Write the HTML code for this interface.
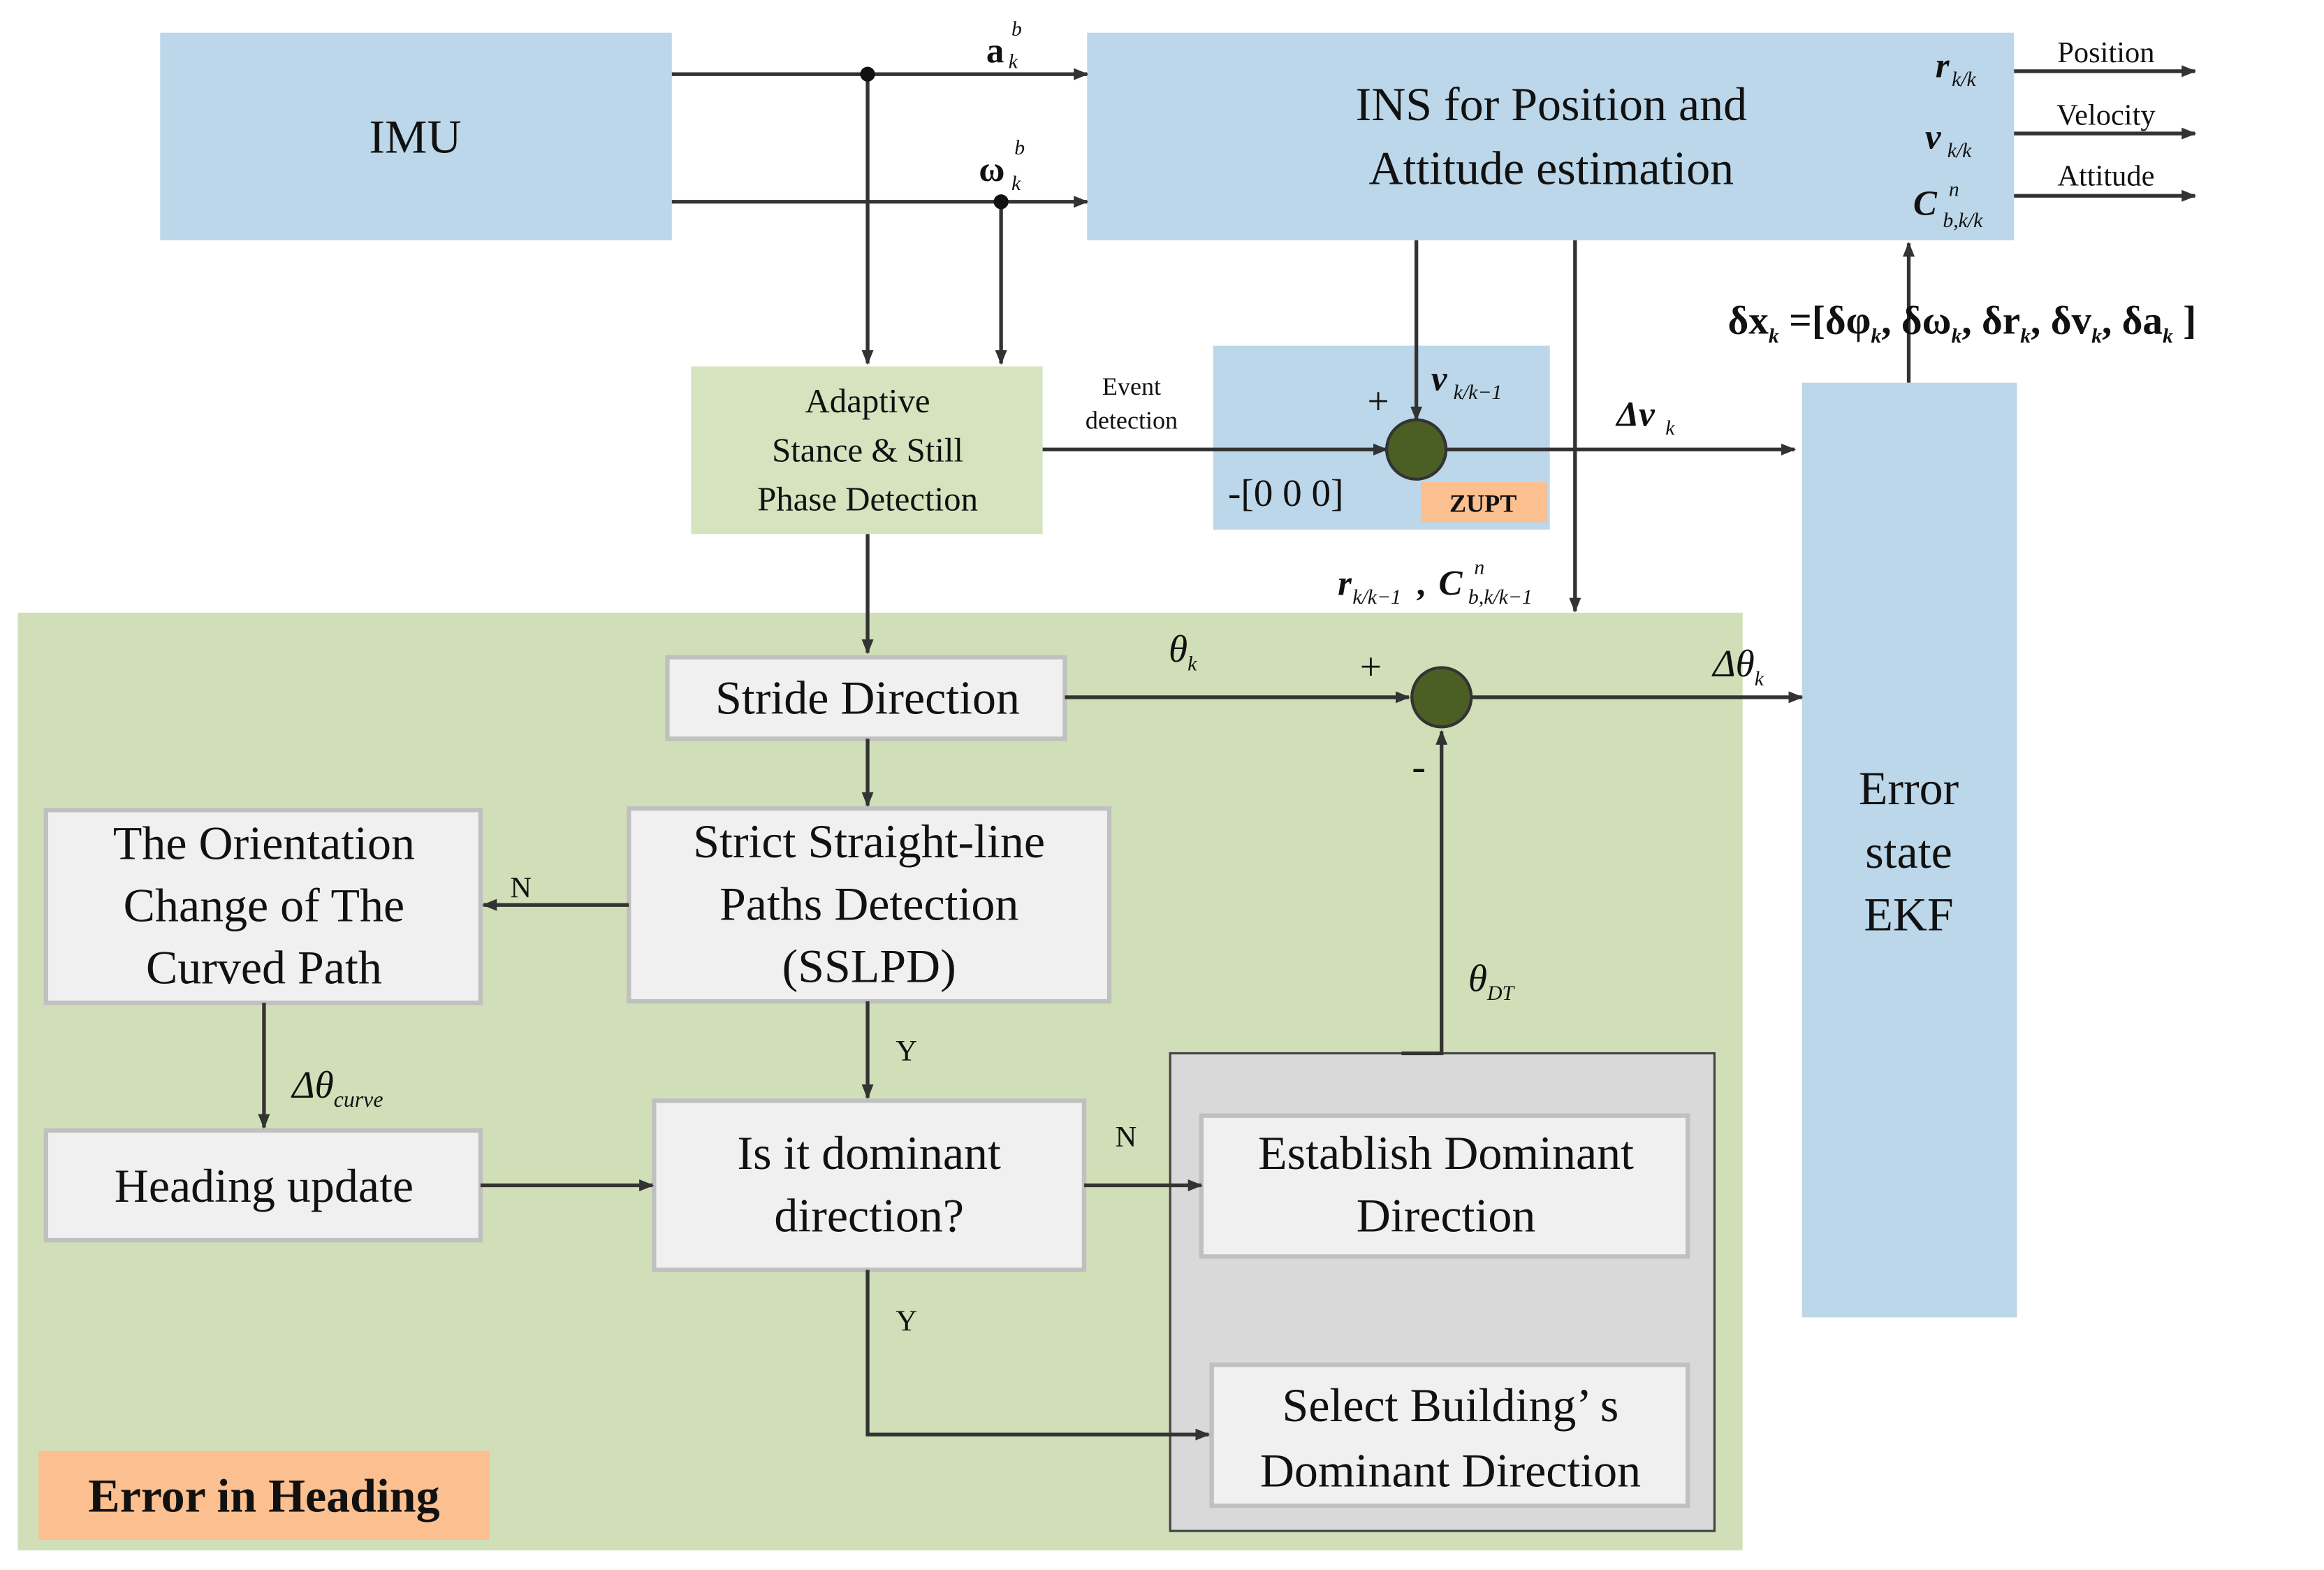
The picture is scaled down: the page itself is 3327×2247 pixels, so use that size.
<!DOCTYPE html>
<html><head><meta charset="utf-8"><style>html,body{margin:0;padding:0;background:#fff}svg{display:block}text{font-family:"Liberation Serif",serif;fill:#111}</style></head>
<body>
<svg width="3327" height="2247" viewBox="0 0 1567 1058.3" preserveAspectRatio="none" xmlns="http://www.w3.org/2000/svg">
<defs><marker id="a" markerWidth="10" markerHeight="8" refX="9" refY="4" orient="auto" markerUnits="userSpaceOnUse"><path d="M0,0 L10,4 L0,8 z" fill="#333"/></marker></defs>
<rect width="1567" height="1058.3" fill="#fff"/>
<rect x="12" y="413" width="1163" height="632" fill="#d1dfb8"/>
<rect x="108" y="22" width="345" height="140" fill="#bcd7e9"/>
<text x="280" y="103" font-size="32" text-anchor="middle">IMU</text>
<rect x="733" y="22" width="625" height="140" fill="#bcd7e9"/>
<text x="1046" y="81" font-size="32" text-anchor="middle">INS for Position and</text>
<text x="1046" y="124" font-size="32" text-anchor="middle">Attitude estimation</text>
<g stroke="#333" stroke-width="2.5" fill="none">
<line x1="453" y1="50" x2="733" y2="50" marker-end="url(#a)"/>
<line x1="453" y1="136" x2="733" y2="136" marker-end="url(#a)"/>
<line x1="585" y1="50" x2="585" y2="245" marker-end="url(#a)"/>
<line x1="675" y1="136" x2="675" y2="245" marker-end="url(#a)"/>
<line x1="1358" y1="48" x2="1480" y2="48" marker-end="url(#a)"/>
<line x1="1358" y1="90" x2="1480" y2="90" marker-end="url(#a)"/>
<line x1="1358" y1="132" x2="1480" y2="132" marker-end="url(#a)"/>
</g>
<circle cx="585" cy="50" r="5" fill="#111"/><circle cx="675" cy="136" r="5" fill="#111"/>
<text x="665" y="42" font-size="24" font-weight="bold">a</text><text x="682" y="24" font-size="14" font-style="italic">b</text><text x="680" y="46" font-size="14" font-style="italic">k</text>
<text x="660" y="122" font-size="24" font-weight="bold">ω</text><text x="684" y="104" font-size="14" font-style="italic">b</text><text x="682" y="128" font-size="14" font-style="italic">k</text>
<text x="1305" y="52" font-size="24" font-weight="bold" font-style="italic">r</text><text x="1316" y="58" font-size="14" font-style="italic">k/k</text>
<text x="1298" y="100" font-size="24" font-weight="bold" font-style="italic">v</text><text x="1313" y="106" font-size="14" font-style="italic">k/k</text>
<text x="1290" y="145" font-size="24" font-weight="bold" font-style="italic">C</text><text x="1314" y="132" font-size="14" font-style="italic">n</text><text x="1310" y="153" font-size="14" font-style="italic">b,k/k</text>
<text x="1420" y="42" font-size="20" text-anchor="middle">Position</text>
<text x="1420" y="84" font-size="20" text-anchor="middle">Velocity</text>
<text x="1420" y="125" font-size="20" text-anchor="middle">Attitude</text>
<rect x="466" y="247" width="237" height="113" fill="#d5e3bf"/>
<text x="585" y="278" font-size="23" text-anchor="middle">Adaptive</text>
<text x="585" y="311" font-size="23" text-anchor="middle">Stance &amp; Still</text>
<text x="585" y="344" font-size="23" text-anchor="middle">Phase Detection</text>
<rect x="818" y="233" width="227" height="124" fill="#bcd7e9"/>
<rect x="958" y="325" width="85" height="27" fill="#fbbf90"/>
<text x="1000" y="345" font-size="17" font-weight="bold" text-anchor="middle">ZUPT</text>
<text x="763" y="266" font-size="17" text-anchor="middle">Event</text>
<text x="763" y="289" font-size="17" text-anchor="middle">detection</text>
<text x="828" y="341" font-size="26">-[0 0 0]</text>
<text x="922" y="279" font-size="26">+</text>
<text x="965" y="263" font-size="24" font-weight="bold" font-style="italic">v</text><text x="980" y="269" font-size="14" font-style="italic">k/k−1</text>
<g stroke="#333" stroke-width="2.5" fill="none">
<line x1="703" y1="303" x2="935" y2="303" marker-end="url(#a)"/>
<line x1="955" y1="162" x2="955" y2="283" marker-end="url(#a)"/>
<line x1="975" y1="303" x2="1210" y2="303" marker-end="url(#a)"/>
<line x1="1062" y1="162" x2="1062" y2="412" marker-end="url(#a)"/>
<line x1="1287" y1="258" x2="1287" y2="164" marker-end="url(#a)"/>
<line x1="585" y1="360" x2="585" y2="440" marker-end="url(#a)"/>
</g>
<circle cx="955" cy="303" r="20" fill="#4b5e24" stroke="#333" stroke-width="2"/>
<text x="1090" y="287" font-size="24" font-weight="bold" font-style="italic">Δv</text><text x="1123" y="293" font-size="14" font-style="italic">k</text>
<text x="902" y="401" font-size="24" font-weight="bold" font-style="italic">r</text><text x="912" y="407" font-size="14" font-style="italic">k/k−1</text>
<text x="955" y="401" font-size="24" font-weight="bold">,</text>
<text x="970" y="401" font-size="24" font-weight="bold" font-style="italic">C</text><text x="994" y="387" font-size="14" font-style="italic">n</text><text x="990" y="407" font-size="14" font-style="italic">b,k/k−1</text>
<rect x="1215" y="258" width="145" height="630" fill="#bcd7e9"/>
<text x="1287" y="542" font-size="32" text-anchor="middle">Error</text>
<text x="1287" y="585" font-size="32" text-anchor="middle">state</text>
<text x="1287" y="627" font-size="32" text-anchor="middle">EKF</text>
<text x="1165" y="225" font-size="27" font-weight="bold">δx<tspan font-size="14" font-style="italic" dy="6">k</tspan><tspan dy="-6"> =[δφ</tspan><tspan font-size="14" font-style="italic" dy="6">k</tspan><tspan dy="-6">, δω</tspan><tspan font-size="14" font-style="italic" dy="6">k</tspan><tspan dy="-6">, δr</tspan><tspan font-size="14" font-style="italic" dy="6">k</tspan><tspan dy="-6">, δv</tspan><tspan font-size="14" font-style="italic" dy="6">k</tspan><tspan dy="-6">, δa</tspan><tspan font-size="14" font-style="italic" dy="6">k</tspan><tspan dy="-6"> ]</tspan></text>
<rect x="789" y="710" width="367" height="322" fill="#d9d9d9" stroke="#444" stroke-width="1.5"/>
<g fill="#f0f0f0" stroke="#c0c0c0" stroke-width="3">
<rect x="450" y="443" width="268" height="55"/>
<rect x="424" y="545" width="324" height="130"/>
<rect x="31" y="546" width="293" height="130"/>
<rect x="31" y="762" width="293" height="74"/>
<rect x="441" y="742" width="290" height="114"/>
<rect x="810" y="752" width="328" height="95"/>
<rect x="817" y="920" width="321" height="95"/>
</g>
<g font-size="32" text-anchor="middle">
<text x="585" y="481">Stride Direction</text>
<text x="586" y="578">Strict Straight-line</text><text x="586" y="620">Paths Detection</text><text x="586" y="662">(SSLPD)</text>
<text x="178" y="579">The Orientation</text><text x="178" y="621">Change of The</text><text x="178" y="663">Curved Path</text>
<text x="178" y="810">Heading update</text>
<text x="586" y="788">Is it dominant</text><text x="586" y="830">direction?</text>
<text x="975" y="788">Establish Dominant</text><text x="975" y="830">Direction</text>
<text x="978" y="958">Select Building’ s</text><text x="978" y="1002">Dominant Direction</text>
</g>
<g stroke="#333" stroke-width="2.5" fill="none">
<line x1="718" y1="470" x2="950" y2="470" marker-end="url(#a)"/>
<line x1="992" y1="470" x2="1215" y2="470" marker-end="url(#a)"/>
<polyline points="945,710 972,710 972,493" marker-end="url(#a)"/>
<line x1="585" y1="498" x2="585" y2="543" marker-end="url(#a)"/>
<line x1="424" y1="610" x2="326" y2="610" marker-end="url(#a)"/>
<line x1="178" y1="676" x2="178" y2="760" marker-end="url(#a)"/>
<line x1="324" y1="799" x2="440" y2="799" marker-end="url(#a)"/>
<line x1="585" y1="675" x2="585" y2="740" marker-end="url(#a)"/>
<line x1="731" y1="799" x2="810" y2="799" marker-end="url(#a)"/>
<polyline points="585,856 585,967 815,967" marker-end="url(#a)"/>
</g>
<circle cx="972" cy="470" r="20" fill="#4b5e24" stroke="#333" stroke-width="2"/>
<text x="788" y="446" font-size="26" font-style="italic">θ<tspan font-size="14" dy="6">k</tspan></text>
<text x="917" y="458" font-size="26">+</text>
<text x="952" y="526" font-size="28">-</text>
<text x="1155" y="456" font-size="26" font-style="italic">Δθ<tspan font-size="14" dy="6">k</tspan></text>
<text x="990" y="668" font-size="26" font-style="italic">θ<tspan font-size="14" dy="6">DT</tspan></text>
<text x="344" y="605" font-size="20">N</text>
<text x="197" y="740" font-size="26" font-style="italic">Δθ<tspan font-size="15" dy="6">curve</tspan></text>
<text x="604" y="715" font-size="20">Y</text>
<text x="752" y="773" font-size="20">N</text>
<text x="604" y="897" font-size="20">Y</text>
<rect x="26" y="978" width="304" height="60" fill="#fbbf90"/>
<text x="178" y="1019" font-size="32" font-weight="bold" text-anchor="middle">Error in Heading</text>
</svg>
</body></html>
